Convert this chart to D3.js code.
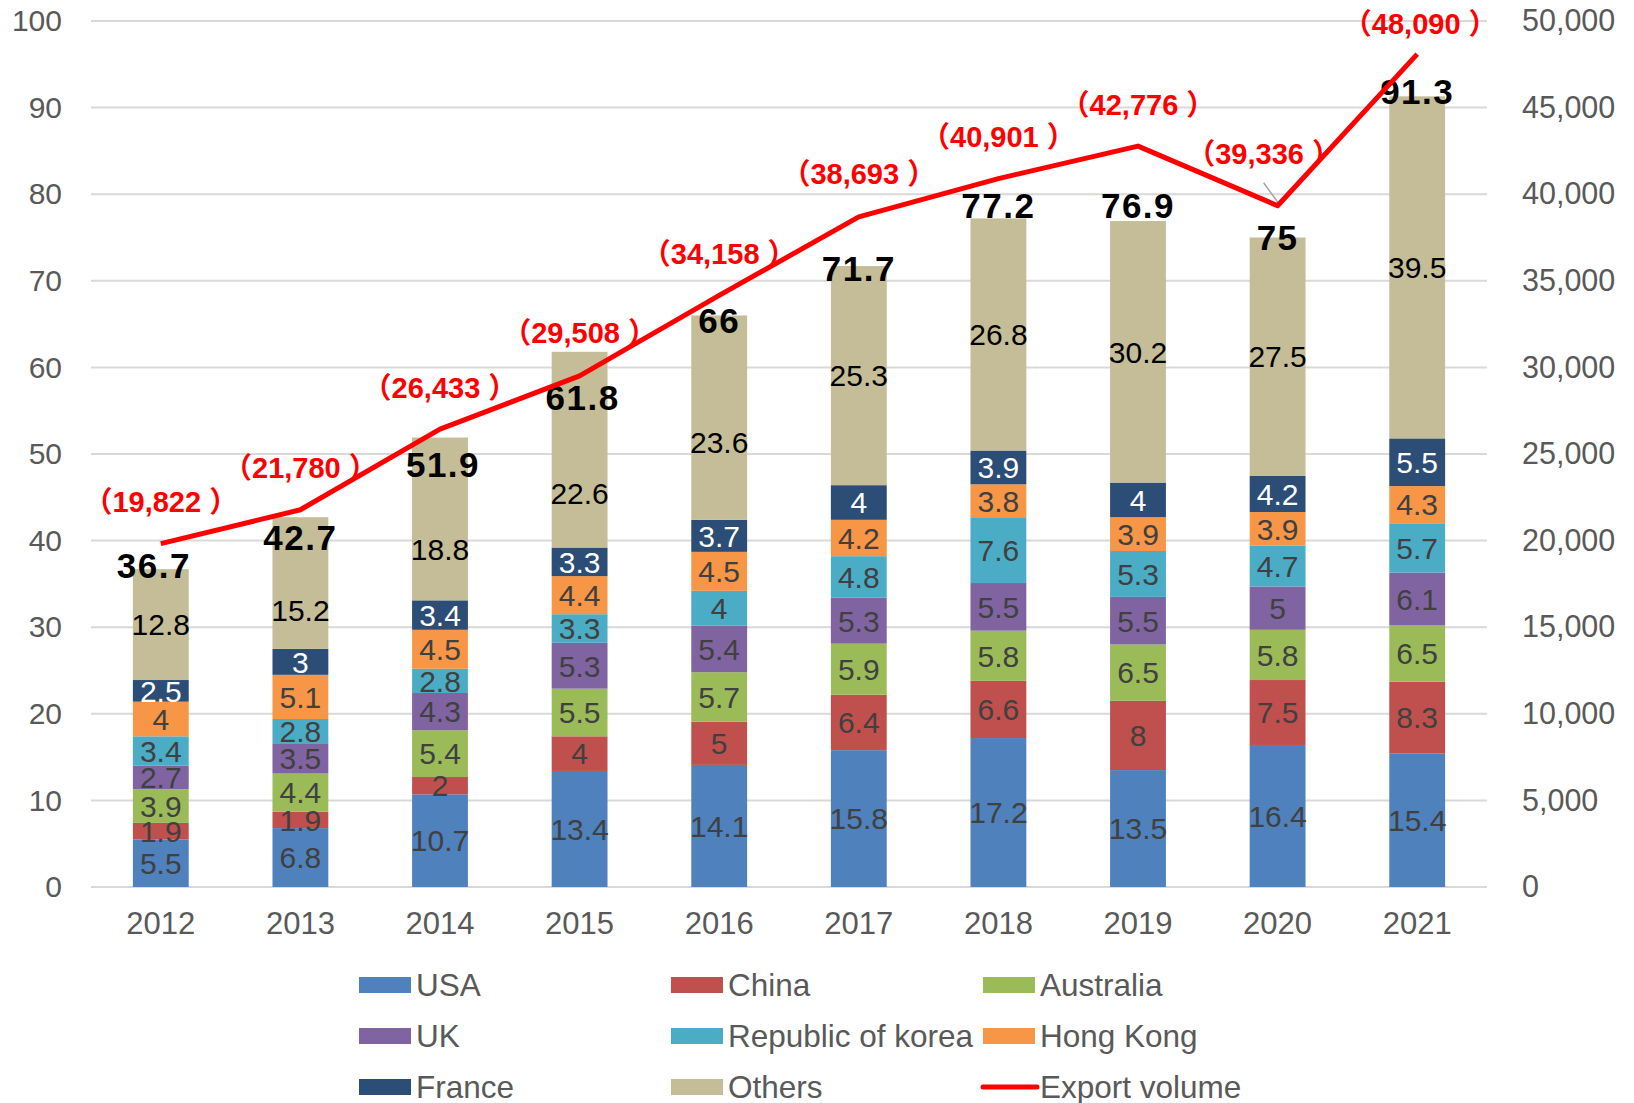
<!DOCTYPE html>
<html>
<head>
<meta charset="utf-8">
<script src="https://cdn.jsdelivr.net/npm/d3@7"></script>
<style>
  html, body { margin: 0; padding: 0; background: #fff; }
  svg { display: block; font-family: Arial, 'Liberation Sans', 'Noto Sans CJK JP', sans-serif; }
</style>
</head>
<body>
<svg id="chart"></svg>
<script>
var years = ['2012', '2013', '2014', '2015', '2016', '2017', '2018', '2019', '2020', '2021'];

var usa       = [5.5, 6.8, 10.7, 13.4, 14.1, 15.8, 17.2, 13.5, 16.4, 15.4];
var china     = [1.9, 1.9, 2, 4, 5, 6.4, 6.6, 8, 7.5, 8.3];
var australia = [3.9, 4.4, 5.4, 5.5, 5.7, 5.9, 5.8, 6.5, 5.8, 6.5];
var uk        = [2.7, 3.5, 4.3, 5.3, 5.4, 5.3, 5.5, 5.5, 5, 6.1];
var korea     = [3.4, 2.8, 2.8, 3.3, 4, 4.8, 7.6, 5.3, 4.7, 5.7];
var hongKong  = [4, 5.1, 4.5, 4.4, 4.5, 4.2, 3.8, 3.9, 3.9, 4.3];
var france    = [2.5, 3, 3.4, 3.3, 3.7, 4, 3.9, 4, 4.2, 5.5];
var others    = [12.8, 15.2, 18.8, 22.6, 23.6, 25.3, 26.8, 30.2, 27.5, 39.5];

var exportVolume = [19822, 21780, 26433, 29508, 34158, 38693, 40901, 42776, 39336, 48090];

var leftTicks = [0, 10, 20, 30, 40, 50, 60, 70, 80, 90, 100];
var rightTicks = [0, 5000, 10000, 15000, 20000, 25000, 30000, 35000, 40000, 45000, 50000];

var seriesNames = ['USA', 'China', 'Australia', 'UK', 'Republic of korea', 'Hong Kong', 'France', 'Others'];
var seriesValues = [usa, china, australia, uk, korea, hongKong, france, others];
var seriesColors = ['#4F81BD', '#C0504D', '#9BBB59', '#8064A2', '#4BACC6', '#F79646', '#2C4D75', '#C4BD97'];
var labelColors = ['#404040', '#404040', '#404040', '#404040', '#404040', '#404040', '#ffffff', '#000000'];

// hand-placed label nudges (px) like the original
var totalNudge = [[-7, -4], [0, 20], [3, 27], [3, 46], [0, 5], [0, 2], [0, -13], [0, -16], [0, 0], [0, -5]];
var othersNudge = [0, 27, 30, 44, 25, 0, 0, 0, 0, 0];
var exportNudge = [[0, -42], [0, -42], [0, -42], [0, -43], [0, -42], [0, -43], [0, -42], [0, -42], [-14, -52], [3, -31]];

var width = 1634, height = 1103;
var margin = {left: 91, right: 147, top: 21, bottom: 216};

var svg = d3.select('#chart')
  .attr('width', width)
  .attr('height', height);

var x = d3.scaleBand()
  .domain(years)
  .range([margin.left, width - margin.right])
  .paddingInner(0.6)
  .paddingOuter(0.3);

var y = d3.scaleLinear()
  .domain([0, 100])
  .range([height - margin.bottom, margin.top]);

var y2 = d3.scaleLinear()
  .domain([0, 50000])
  .range([height - margin.bottom, margin.top]);

// gridlines
svg.append('g')
  .selectAll('line')
  .data(leftTicks)
  .join('line')
  .attr('x1', margin.left)
  .attr('x2', width - margin.right)
  .attr('y1', d => y(d))
  .attr('y2', d => y(d))
  .attr('stroke', '#D9D9D9')
  .attr('stroke-width', 2);

// left axis
var leftAxis = svg.append('g')
  .attr('transform', 'translate(' + (margin.left - 29) + ',0)')
  .call(d3.axisLeft(y).tickValues(leftTicks).tickSize(0).tickPadding(0));
leftAxis.select('.domain').remove();
leftAxis.selectAll('text')
  .attr('fill', '#595959')
  .style('font-size', '30px')
  .style('font-family', null);

// right axis
var rightAxis = svg.append('g')
  .attr('transform', 'translate(' + (width - margin.right + 35) + ',0)')
  .call(d3.axisRight(y2).tickValues(rightTicks).tickSize(0).tickPadding(0).tickFormat(d3.format(',')));
rightAxis.select('.domain').remove();
rightAxis.selectAll('text')
  .attr('fill', '#595959')
  .style('font-size', '30.5px')
  .style('font-family', null);

// bottom axis
var bottomAxis = svg.append('g')
  .attr('transform', 'translate(0,' + (height - margin.bottom + 36) + ')')
  .call(d3.axisBottom(x).tickSize(0).tickPadding(0));
bottomAxis.select('.domain').remove();
bottomAxis.selectAll('text')
  .attr('fill', '#595959')
  .attr('dy', '0.35em')
  .style('font-size', '31px')
  .style('font-family', null);

// stacked bars
var rows = years.map(function(yr, i) {
  var r = {year: yr};
  seriesNames.forEach(function(n, k) { r[n] = seriesValues[k][i]; });
  return r;
});
var stack = d3.stack().keys(seriesNames)(rows);

var layers = svg.append('g')
  .selectAll('g')
  .data(stack)
  .join('g')
  .attr('fill', (d, k) => seriesColors[k]);

layers.selectAll('rect')
  .data(d => d)
  .join('rect')
  .attr('x', d => x(d.data.year))
  .attr('width', x.bandwidth())
  .attr('y', d => y(d[1]))
  .attr('height', d => y(d[0]) - y(d[1]));

// segment labels
svg.append('g')
  .selectAll('g')
  .data(stack)
  .join('g')
  .attr('fill', (d, k) => labelColors[k])
  .selectAll('text')
  .data(d => d.map((v, i) => ({v: v, key: d.key, i: i})))
  .join('text')
  .attr('x', d => x(d.v.data.year) + x.bandwidth() / 2)
  .attr('y', d => y((d.v[0] + d.v[1]) / 2) + (d.key === 'Others' ? othersNudge[d.i] : 0))
  .attr('dy', '0.36em')
  .attr('text-anchor', 'middle')
  .style('font-size', '30px')
  .text(d => d.v.data[d.key]);

// totals
var totals = rows.map(r => d3.sum(seriesNames, n => r[n]));
svg.append('g')
  .selectAll('text')
  .data(totals)
  .join('text')
  .attr('x', (d, i) => x(years[i]) + x.bandwidth() / 2 + totalNudge[i][0])
  .attr('y', (d, i) => y(d) + totalNudge[i][1])
  .attr('dy', '0.36em')
  .attr('text-anchor', 'middle')
  .attr('fill', '#000')
  .style('font-size', '35px')
  .style('letter-spacing', '1.5px')
  .style('font-weight', 'bold')
  .text(d => d3.format('.3~r')(d));

// export volume line
var line = d3.line()
  .x((d, i) => x(years[i]) + x.bandwidth() / 2)
  .y(d => y2(d));

// leader line for the 2020 label
var li = 8;
svg.append('line')
  .attr('x1', x(years[li]) + x.bandwidth() / 2 - 14)
  .attr('y1', y2(exportVolume[li]) - 23)
  .attr('x2', x(years[li]) + x.bandwidth() / 2 + 2)
  .attr('y2', y2(exportVolume[li]) - 1)
  .attr('stroke', '#A6A6A6')
  .attr('stroke-width', 1.5);

svg.append('path')
  .datum(exportVolume)
  .attr('d', line)
  .attr('fill', 'none')
  .attr('stroke', '#FF0000')
  .attr('stroke-width', 5)
  .attr('stroke-linejoin', 'round');

svg.append('g')
  .selectAll('text')
  .data(exportVolume)
  .join('text')
  .attr('x', (d, i) => x(years[i]) + x.bandwidth() / 2 + exportNudge[i][0])
  .attr('y', (d, i) => y2(d) + exportNudge[i][1])
  .attr('dy', '0.36em')
  .attr('text-anchor', 'middle')
  .attr('fill', '#FF0000')
  .style('font-size', '29px')
  .style('font-weight', 'bold')
  .text(d => '（' + d3.format(',')(d) + ' ）');

// legend
var legendItems = seriesNames.concat(['Export volume']);
var legend = svg.append('g')
  .selectAll('g')
  .data(legendItems)
  .join('g')
  .attr('transform', (d, i) => 'translate(' + (359 + (i % 3) * 312) + ',' + (985 + Math.floor(i / 3) * 51) + ')');

legend.each(function(d, i) {
  var g = d3.select(this);
  if (i < seriesNames.length) {
    g.append('rect')
      .attr('x', 0)
      .attr('y', -8)
      .attr('width', 52)
      .attr('height', 16)
      .attr('fill', seriesColors[i]);
  } else {
    g.append('line')
      .attr('x1', 0)
      .attr('x2', 54)
      .attr('y1', 0)
      .attr('y2', 0)
      .attr('stroke', '#FF0000')
      .attr('stroke-width', 5)
      .attr('stroke-linecap', 'round');
  }
  g.append('text')
    .attr('x', 57)
    .attr('y', 0)
    .attr('dy', '0.36em')
    .attr('fill', '#595959')
    .style('font-size', '31.5px')
    .text(d);
});
</script>
</body>
</html>
